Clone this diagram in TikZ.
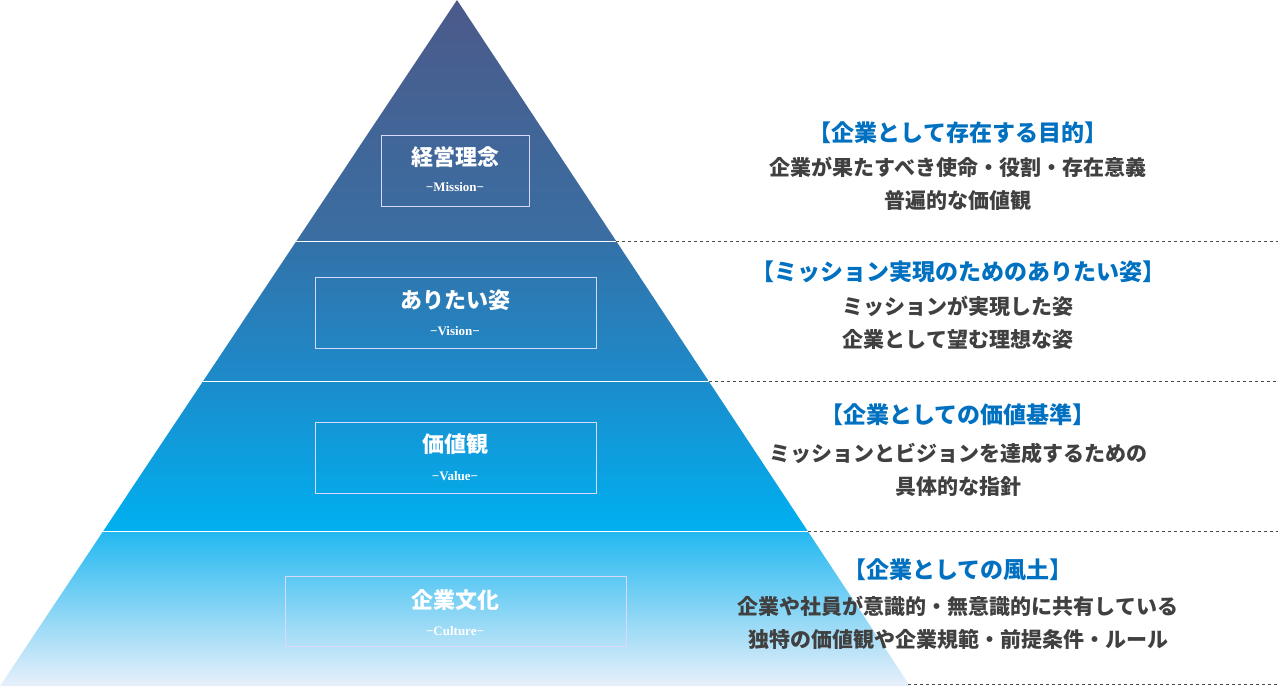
\documentclass[tikz,border=0pt]{standalone}
\usepackage{fontspec}
\newfontfamily\cjk{Noto Sans CJK JP}
\newfontfamily\tms{Liberation Serif}
\definecolor{ttl}{HTML}{0070C0}
\definecolor{txt}{HTML}{404040}
\begin{document}
\begin{tikzpicture}[x=1pt,y=-1pt,
  lbl/.style={font=\cjk\bfseries\fontsize{22}{24}\selectfont,text=white},
  sub/.style={font=\tms\bfseries\fontsize{13}{14}\selectfont,text=white},
  boxf/.style={draw=white!85!blue,line width=0.8pt},
  ttlt/.style={font=\cjk\bfseries\fontsize{23}{26}\selectfont,text=ttl},
  bodyt/.style={font=\cjk\bfseries\fontsize{21}{33}\selectfont,text=txt,align=center},
  dsh/.style={draw=black!70,dashed,line width=0.8pt}]
\useasboundingbox (0,0) rectangle (1280,686);
\def\L#1{457-457*(#1/686)}
\def\R#1{457+453*(#1/686)}
\shade[top color={rgb,255:red,75;green,90;blue,138},bottom color={rgb,255:red,58;green,110;blue,162}] (457,0) -- ({\L{241}},241) -- ({\R{241}},241) -- cycle;
\shade[top color={rgb,255:red,51;green,113;blue,168},bottom color={rgb,255:red,29;green,139;blue,203}] ({\L{241}},241) -- ({\R{241}},241) -- ({\R{381}},381) -- ({\L{381}},381) -- cycle;
\shade[top color={rgb,255:red,27;green,140;blue,204},bottom color={rgb,255:red,0;green,176;blue,240}] ({\L{381}},381) -- ({\R{381}},381) -- ({\R{531}},531) -- ({\L{531}},531) -- cycle;
\shade[top color={rgb,255:red,34;green,184;blue,240},bottom color={rgb,255:red,232;green,240;blue,250}] ({\L{531}},531) -- ({\R{531}},531) -- (910,686) -- (0,686) -- cycle;
\foreach \y in {241,381,531}{\draw[white,line width=1pt] ({\L{\y}},\y) -- ({\R{\y}},\y);}
\coordinate (d1) at ({\R{241}},241); \coordinate (e1) at (1278,241);
\coordinate (d2) at ({\R{381}},381); \coordinate (e2) at (1278,381);
\coordinate (d3) at ({\R{531}},531); \coordinate (e3) at (1278,531);
\coordinate (d4) at (908,684); \coordinate (e4) at (1278,684);
\foreach \i in {1,...,4}{\draw[dsh] (d\i) -- (e\i);}
\draw[boxf] (381,135) rectangle (529,206);
\draw[boxf] (315,277) rectangle (596,348);
\draw[boxf] (315,422) rectangle (596,493);
\draw[boxf] (285,576) rectangle (626,646);
\node[lbl] (m1) at (455,157) {経営理念};
\node[sub] (m2) at (455,187) {−Mission−};
\node[lbl] (v1) at (455,300) {ありたい姿};
\node[sub] (v2) at (455,331) {−Vision−};
\node[lbl] (a1) at (455,444) {価値観};
\node[sub] (a2) at (455,476) {−Value−};
\node[lbl] (c1) at (455,600) {企業文化};
\node[sub] (c2) at (455,631) {−Culture−};
\node[ttlt] (t1) at (958,133) {【企業として存在する目的】};
\node[bodyt] (b1) at (958,184) {企業が果たすべき使命・役割・存在意義\\普遍的な価値観};
\node[ttlt] (t2) at (958,272) {【ミッション実現のためのありたい姿】};
\node[bodyt] (b2) at (958,323) {ミッションが実現した姿\\企業として望む理想な姿};
\node[ttlt] (t3) at (958,415) {【企業としての価値基準】};
\node[bodyt] (b3) at (958,470) {ミッションとビジョンを達成するための\\具体的な指針};
\node[ttlt] (t4) at (958,570) {【企業としての風土】};
\node[bodyt] (b4) at (958,623) {企業や社員が意識的・無意識的に共有している\\独特の価値観や企業規範・前提条件・ルール};
\end{tikzpicture}
\end{document}
